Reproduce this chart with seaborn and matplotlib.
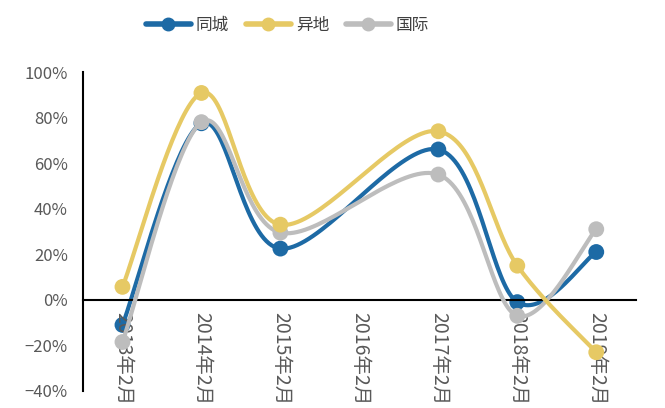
import numpy as np
import pandas as pd
import matplotlib
matplotlib.use('Agg')
import matplotlib.pyplot as plt
from matplotlib.ticker import PercentFormatter, FixedLocator
from matplotlib.lines import Line2D
import seaborn as sns

categories = ['2013年2月', '2014年2月', '2015年2月', '2016年2月', '2017年2月', '2018年2月', '2019年2月']
same_city = [-11, 77.5, 22.5, np.nan, 66, -1, 21]
other_city = [5.7, 90.8, 33, np.nan, 74, 15, -23]
intl = [-18.5, 78, 29.5, np.nan, 55, -7, 31]

series_names = ['同城', '异地', '国际']
series_vals = [same_city, other_city, intl]
colors = {'同城': '#1D6AA5', '异地': '#E6C964', '国际': '#BDBDBD'}
draw_order = ['同城', '国际', '异地']

sns.set_style('white')
plt.rcParams['font.family'] = ['Noto Sans CJK SC', 'DejaVu Sans']


def smooth(xs, ys, n=40):
    # Excel-like smoothed line: cubic bezier with catmull-rom control points
    pts = np.column_stack([xs, ys])
    out = []
    for i in range(len(pts) - 1):
        p0 = pts[i - 1] if i > 0 else pts[i]
        p1 = pts[i]
        p2 = pts[i + 1]
        p3 = pts[i + 2] if i + 2 < len(pts) else pts[i + 1]
        b1 = p1 + (p2 - p0) / 6
        b2 = p2 - (p3 - p1) / 6
        t = np.linspace(0, 1, n)[:, None]
        seg = (1 - t) ** 3 * p1 + 3 * (1 - t) ** 2 * t * b1 + 3 * (1 - t) * t ** 2 * b2 + t ** 3 * p2
        out.append(seg if i == 0 else seg[1:])
    return np.vstack(out)


raw = pd.DataFrame({
    'x': np.tile(np.arange(len(categories)), len(series_names)),
    'y': np.concatenate(series_vals),
    'series': np.repeat(series_names, len(categories)),
}).dropna()

curves = []
for name in series_names:
    d = raw[raw['series'] == name]
    s = smooth(d['x'].values.astype(float), d['y'].values)
    curves.append(pd.DataFrame({'x': s[:, 0], 'y': s[:, 1], 'series': name}))
curves = pd.concat(curves)

fig = plt.figure(figsize=(6.65, 4.08), dpi=100)
ax = fig.add_axes([0.1248, 0.0417, 0.956 - 0.1248, 0.8235 - 0.0417])

for z, name in enumerate(draw_order):
    sns.lineplot(data=curves[curves['series'] == name], x='x', y='y', color=colors[name],
                 sort=False, estimator=None, lw=3.0, ax=ax, zorder=2 + z, legend=False)
    sns.scatterplot(data=raw[raw['series'] == name], x='x', y='y', color=colors[name],
                    s=130, edgecolor='none', ax=ax, zorder=2 + z, legend=False)

ax.set_xlim(-0.5, len(categories) - 0.5)
ax.set_ylim(-40, 100)
ax.yaxis.set_major_locator(FixedLocator(np.arange(-40, 101, 20)))
ax.yaxis.set_major_formatter(PercentFormatter(100, decimals=0))

ax.xaxis.set_major_locator(FixedLocator(np.arange(-0.5, len(categories), 1.0)))
ax.xaxis.set_major_formatter(plt.NullFormatter())
ax.xaxis.set_minor_locator(FixedLocator(np.arange(len(categories))))
ax.set_xticklabels(categories, minor=True)
ax.tick_params(axis='x', which='major', direction='out', length=5, width=1.2, color='black')
ax.tick_params(axis='x', which='minor', length=0, pad=9, labelsize=14, labelcolor='#595959',
               labelrotation=270)
for lab in ax.get_xticklabels(minor=True):
    lab.set_zorder(10)
    lab.set_va('top')
ax.tick_params(axis='y', direction='out', length=5, width=1.2, color='black', pad=6,
               labelsize=12, labelcolor='#595959')
ax.set_xlabel('')
ax.set_ylabel('')

for sp in ['top', 'right']:
    ax.spines[sp].set_visible(False)
ax.spines['bottom'].set_position(('data', 0))
ax.spines['bottom'].set_linewidth(1.5)
ax.spines['left'].set_linewidth(1.5)
ax.spines['bottom'].set_color('black')
ax.spines['left'].set_color('black')
ax.set_axisbelow(False)

handles = [Line2D([0], [0], color=colors[n], lw=4, marker='o', ms=9, solid_capstyle='round')
           for n in series_names]
fig.legend(handles, series_names, loc='upper center', bbox_to_anchor=(0.432, 0.995), ncol=3,
           frameon=False, fontsize=12, handlelength=2.7, columnspacing=1.0, handletextpad=0.3,
           labelcolor='#404040')

fig.savefig('out.png', dpi=100)
